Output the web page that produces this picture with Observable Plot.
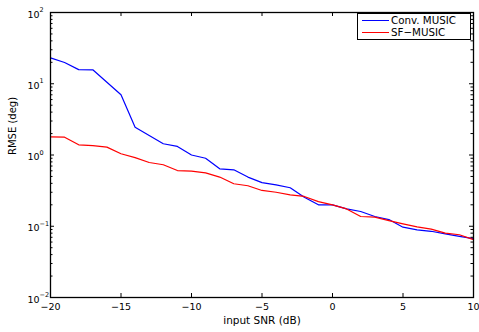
<!DOCTYPE html>
<html>
<head>
<meta charset="utf-8">
<script src="https://cdn.jsdelivr.net/npm/d3@7"></script>
<script src="https://cdn.jsdelivr.net/npm/@observablehq/plot@0.6"></script>
<style>
  html, body { margin: 0; padding: 0; background: #fff; }
  #wrap { position: relative; width: 479px; height: 332px; font-family: "DejaVu Sans", sans-serif; }
  #legend { position: absolute; left: 357px; top: 13px; width: 112px; height: 25px; border: 1px solid #000; background: #fff; font-size: 10.3px; }
  #legend .row { position: absolute; left: 0; height: 12px; line-height: 12px; }
  #legend .sw { position: absolute; left: 4px; width: 27px; height: 1px; top: 6px; }
  #legend .lab { position: absolute; left: 33px; white-space: nowrap; top: 0; }
</style>
</head>
<body>
<div id="wrap"></div>
<script>
const snr = [-20,-19,-18,-17,-16,-15,-14,-13,-12,-11,-10,-9,-8,-7,-6,-5,-4,-3,-2,-1,0,1,2,3,4,5,6,7,8,9,10];
const convMusic = [23.1,19.9,15.8,15.7,10.5,7.0,2.45,1.88,1.44,1.32,1.0,0.90,0.64,0.62,0.49,0.41,0.38,0.347,0.256,0.20,0.20,0.175,0.161,0.137,0.124,0.097,0.089,0.085,0.078,0.072,0.067];
const sfMusic = [1.80,1.78,1.39,1.35,1.29,1.04,0.92,0.785,0.73,0.605,0.593,0.56,0.49,0.395,0.37,0.318,0.30,0.275,0.262,0.222,0.20,0.175,0.137,0.134,0.12,0.108,0.098,0.091,0.080,0.076,0.065];
const seriesNames = ["Conv. MUSIC", "SF\u2212MUSIC"];
const seriesColors = ["#0000ff", "#ff0000"];
const xTicks = [-20,-15,-10,-5,0,5,10];
const yDecades = [0.01, 0.1, 1, 10, 100];
const yExponents = ["\u22122", "\u22121", "0", "1", "2"];
const yMinor = [0.02,0.03,0.04,0.05,0.06,0.07,0.08,0.09,0.2,0.3,0.4,0.5,0.6,0.7,0.8,0.9,2,3,4,5,6,7,8,9,20,30,40,50,60,70,80,90];
const xLabel = "input SNR (dB)";
const yLabel = "RMSE (deg)";

const W = 479, H = 332, mL = 50, mR = 6, mT = 12, mB = 35;
const pw = W - mL - mR, ph = H - mT - mB;

const rows = [];
snr.forEach((s, i) => {
  rows.push({snr: s, v: convMusic[i], series: seriesNames[0]});
  rows.push({snr: s, v: sfMusic[i], series: seriesNames[1]});
});
const fmt = d => String(d).replace("-", "\u2212");

const chart = Plot.plot({
  width: W, height: H,
  marginLeft: mL, marginRight: mR, marginTop: mT, marginBottom: mB,
  style: {fontFamily: "DejaVu Sans, sans-serif", background: "#fff", color: "#000"},
  x: {type: "linear", domain: [-20, 10], axis: null},
  y: {type: "log", domain: [0.01, 100], axis: null},
  color: {domain: seriesNames, range: seriesColors},
  marks: [
    Plot.line(rows, {x: "snr", y: "v", z: "series", stroke: "series", strokeWidth: 1.2}),
    Plot.tickY(yDecades, {y: d => d, insetRight: pw - 4, stroke: "#000"}),
    Plot.tickY(yDecades, {y: d => d, insetLeft: pw - 4, stroke: "#000"}),
    Plot.tickY(yMinor, {y: d => d, insetRight: pw - 2.5, stroke: "#000"}),
    Plot.tickY(yMinor, {y: d => d, insetLeft: pw - 2.5, stroke: "#000"}),
    Plot.tickX(xTicks, {x: d => d, insetTop: ph - 4, stroke: "#000"}),
    Plot.tickX(xTicks, {x: d => d, insetBottom: ph - 4, stroke: "#000"}),
    Plot.frame({stroke: "#000", strokeWidth: 1.3}),
    Plot.text(xTicks, {x: d => d, frameAnchor: "bottom", dy: 9, text: fmt, fontSize: 9.5, lineAnchor: "middle", fill: "#000"}),
    Plot.text(yDecades, {y: d => d, frameAnchor: "left", dx: -11, dy: 2, text: () => "10", textAnchor: "end", fontSize: 9.5, lineAnchor: "middle", fill: "#000"}),
    Plot.text(yDecades, {y: d => d, frameAnchor: "left", dx: -11, dy: -2.5, text: (d, i) => yExponents[i], textAnchor: "start", fontSize: 6.5, lineAnchor: "middle", fill: "#000"}),
    Plot.text([xLabel], {frameAnchor: "bottom", dy: 23, text: d => d, fontSize: 10.5, lineAnchor: "middle", fill: "#000"}),
    Plot.text([yLabel], {frameAnchor: "left", dx: -38, rotate: -90, text: d => d, fontSize: 10, lineAnchor: "middle", fill: "#000"})
  ]
});
const wrap = document.getElementById("wrap");
wrap.appendChild(chart);

const leg = document.createElement("div");
leg.id = "legend";
seriesNames.forEach((n, i) => {
  const r = document.createElement("div");
  r.className = "row";
  r.style.top = (i * 12) + "px";
  r.style.width = "100%";
  const sw = document.createElement("div");
  sw.className = "sw";
  sw.style.background = seriesColors[i];
  const lab = document.createElement("div");
  lab.className = "lab";
  lab.textContent = n;
  r.appendChild(sw); r.appendChild(lab);
  leg.appendChild(r);
});
wrap.appendChild(leg);
</script>
</body>
</html>
